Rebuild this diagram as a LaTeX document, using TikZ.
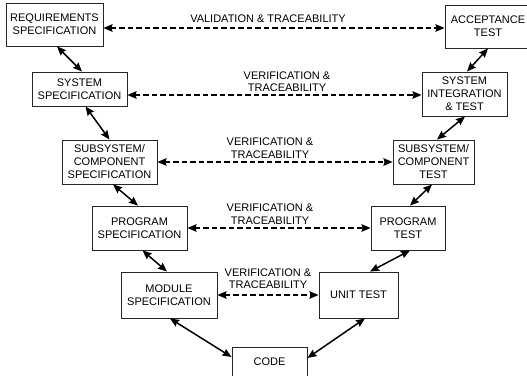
\documentclass[tikz,border=0pt]{standalone}
\usepackage{fontspec}
\setmainfont{Liberation Sans}
\usetikzlibrary{arrows.meta,calc}
\begin{document}
\begin{tikzpicture}[x=1pt,y=-1pt,
  box/.style 2 args={draw=black!85,line width=0.9pt,align=center,
    font=\fontsize{11}{13}\selectfont,inner sep=0pt,
    minimum width=#1,minimum height=#2},
  lbl/.style={align=center,font=\fontsize{11}{12.5}\selectfont,inner sep=0pt},
  link/.style={line width=1.5pt,{Stealth[length=9pt,width=7.5pt,inset=1pt]}-{Stealth[length=9pt,width=7.5pt,inset=1pt]}},
  trace/.style={line width=1.7pt,dash pattern=on 5.5pt off 3pt,{Stealth[length=9pt,width=7.5pt,inset=1pt]}-{Stealth[length=9pt,width=7.5pt,inset=1pt]}}
]
\useasboundingbox (0,0) rectangle (527,375);
\clip (0,0) rectangle (527,375);

% left leg
\node[box={97pt}{43pt}] (req) at (54.5,24.5) {REQUIREMENTS\\SPECIFICATION};
\node[box={95pt}{34pt}] (sysspec) at (79.5,89) {SYSTEM\\SPECIFICATION};
\node[box={95pt}{44pt}] (subspec) at (109.5,162) {SUBSYSTEM/\\COMPONENT\\SPECIFICATION};
\node[box={95pt}{44pt}] (progspec) at (139.5,228) {PROGRAM\\SPECIFICATION};
\node[box={96pt}{46pt}] (module) at (169,295) {MODULE\\SPECIFICATION};
% bottom
\node[box={75pt}{32pt}] (code) at (269.5,363) {\raisebox{2pt}{CODE}};
% right leg
\node[box={86pt}{43pt}] (acc) at (488,26.5) {ACCEPTANCE\\TEST};
\node[box={85pt}{44pt}] (sysint) at (464.5,94) {SYSTEM\\INTEGRATION\\\& TEST};
\node[box={81pt}{44pt}] (subtest) at (433.5,162) {SUBSYSTEM/\\COMPONENT\\TEST};
\node[box={74pt}{44pt}] (progtest) at (408,228) {PROGRAM\\TEST};
\node[box={79pt}{46pt}] (unit) at (358.5,295) {UNIT TEST};

% solid V links
\draw[link] ([xshift=2.5pt]req.south) -- ([xshift=2.5pt]sysspec.north);
\draw[link] ([xshift=6pt]sysspec.south) -- ([xshift=0pt]subspec.north);
\draw[link] ([xshift=3.5pt]subspec.south) -- ([xshift=-1.5pt]progspec.north);
\draw[link] ([xshift=3pt]progspec.south) -- ([xshift=-2pt]module.north);
\draw[link] ([xshift=1pt]module.south) -- ([yshift=6pt]code.west);
\draw[link] ([yshift=5pt]code.east) -- ([xshift=6.5pt]unit.south);
\draw[link] ([xshift=11.5pt]unit.north) -- ([xshift=2pt]progtest.south);
\draw[link] ([xshift=2pt]progtest.north) -- ([xshift=-1.5pt]subtest.south);
\draw[link] ([xshift=3.5pt]subtest.north) -- ([xshift=0.5pt]sysint.south);
\draw[link] ([xshift=2.5pt]sysint.north) -- (acc.south);

% dashed traceability links
\coordinate (d1) at (0,28);
\coordinate (d2) at (0,95);
\draw[trace] (req.east |- d1) -- (acc.west |- d1);
\draw[trace] (sysspec.east |- d2) -- (sysint.west |- d2);
\draw[trace] (subspec.east) -- (subtest.west);
\draw[trace] (progspec.east) -- (progtest.west);
\draw[trace] (module.east) -- (unit.west);

% labels
\node[lbl] (l1) at (268,19) {VALIDATION \& TRACEABILITY};
\node[lbl] (l2) at (287,81.5) {VERIFICATION \&\\TRACEABILITY};
\node[lbl] (l3) at (270,148) {VERIFICATION \&\\TRACEABILITY};
\node[lbl] (l4) at (270,214) {VERIFICATION \&\\TRACEABILITY};
\node[lbl] (l5) at (268,278.5) {VERIFICATION \&\\TRACEABILITY};
\end{tikzpicture}
\end{document}
